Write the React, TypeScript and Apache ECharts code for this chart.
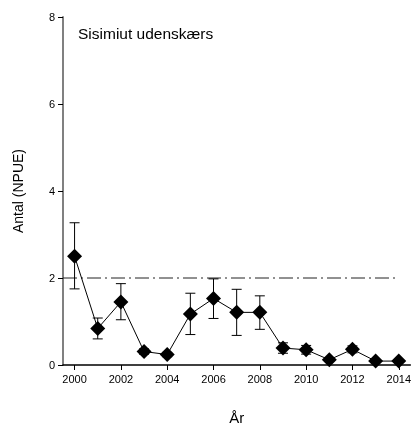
import React, { useEffect, useRef } from "react";
import * as echarts from "echarts";

const years = [2000, 2001, 2002, 2003, 2004, 2005, 2006, 2007, 2008, 2009, 2010, 2011, 2012, 2013, 2014];
const npue = [2.5, 0.84, 1.45, 0.31, 0.24, 1.17, 1.53, 1.21, 1.21, 0.39, 0.35, 0.12, 0.36, 0.09, 0.09];
const errLow = [1.75, 0.6, 1.04, 0.25, 0.19, 0.7, 1.07, 0.68, 0.82, 0.27, 0.25, 0.08, 0.28, 0.06, 0.06];
const errHigh = [3.27, 1.08, 1.87, 0.37, 0.29, 1.65, 1.98, 1.74, 1.59, 0.51, 0.45, 0.16, 0.44, 0.12, 0.12];
const xTicks = [2000, 2002, 2004, 2006, 2008, 2010, 2012, 2014];
const yTicks = [0, 2, 4, 6, 8];
const refLevel = 2;
const refRange = [1999.5, 2014];
const title = "Sisimiut udenskærs";

export default function App() {
  const ref = useRef<HTMLDivElement>(null);
  useEffect(() => {
    const chart = echarts.init(ref.current!, null, { renderer: "svg" });
    const font = "Arial, 'Liberation Sans', sans-serif";
    chart.setOption({
      animation: false,
      textStyle: { fontFamily: font },
      grid: { left: 63, right: 2, top: 17, bottom: 62, containLabel: false },
      graphic: [
        {
          type: "text",
          left: 78,
          top: 25,
          style: { text: title, fontSize: 15.5, fontFamily: font, fill: "#000" },
        },
      ],
      xAxis: {
        type: "value",
        min: 1999.5,
        max: 2014.5,
        name: "År",
        nameLocation: "middle",
        nameGap: 45,
        nameTextStyle: { fontSize: 15, color: "#000", fontFamily: font },
        splitLine: { show: false },
        axisLine: { show: true, lineStyle: { color: "#000", width: 1.5 } },
        axisTick: { show: true, customValues: xTicks, length: 5, inside: false, lineStyle: { color: "#000" } },
        axisLabel: {
          customValues: xTicks,
          fontSize: 11,
          color: "#000",
          margin: 8,
          formatter: (v: number) => String(v),
        },
      },
      yAxis: {
        type: "value",
        min: 0,
        max: 8,
        interval: 2,
        name: "Antal (NPUE)",
        nameLocation: "middle",
        nameGap: 38,
        nameTextStyle: { fontSize: 14, color: "#000", fontFamily: font },
        splitLine: { show: false },
        axisLine: { show: true, lineStyle: { color: "#808080", width: 2 } },
        axisTick: { show: true, length: 5, lineStyle: { color: "#000" } },
        axisLabel: { fontSize: 11, color: "#000", margin: 8, customValues: yTicks },
      },
      series: [
        {
          type: "line",
          data: [
            [refRange[0], refLevel],
            [refRange[1], refLevel],
          ],
          symbol: "none",
          lineStyle: { color: "#222", width: 1, type: [14, 4, 2, 4] },
          silent: true,
          z: 1,
        },
        {
          type: "custom",
          data: years.map((y, i) => [y, errLow[i], errHigh[i]]),
          renderItem: (params: any, api: any) => {
            const x = api.value(0);
            const lo = api.coord([x, api.value(1)]);
            const hi = api.coord([x, api.value(2)]);
            const cap = 5;
            const style = { stroke: "#000", lineWidth: 1 };
            return {
              type: "group",
              children: [
                { type: "line", shape: { x1: lo[0], y1: lo[1], x2: hi[0], y2: hi[1] }, style },
                { type: "line", shape: { x1: hi[0] - cap, y1: hi[1], x2: hi[0] + cap, y2: hi[1] }, style },
                { type: "line", shape: { x1: lo[0] - cap, y1: lo[1], x2: lo[0] + cap, y2: lo[1] }, style },
              ],
            };
          },
          z: 2,
        },
        {
          type: "line",
          data: years.map((y, i) => [y, npue[i]]),
          symbol: "diamond",
          symbolSize: 15,
          itemStyle: { color: "#000" },
          lineStyle: { color: "#000", width: 1 },
          z: 3,
        },
      ],
    });
    return () => chart.dispose();
  }, []);
  return <div ref={ref} style={{ position: "fixed", left: 0, top: 0, width: 414, height: 430 }} />;
}
